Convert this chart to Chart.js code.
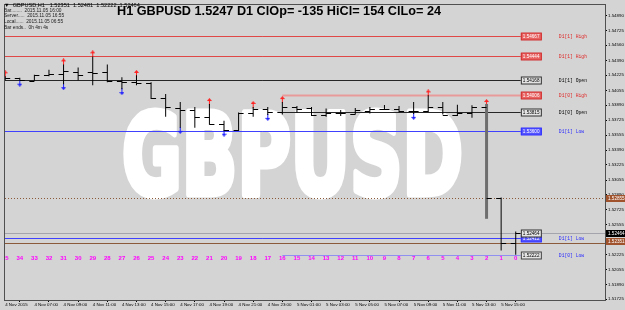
<!DOCTYPE html>
<html>
<head>
<meta charset="utf-8">
<script src="https://cdn.jsdelivr.net/npm/chart.js@4.4.0/dist/chart.umd.min.js"></script>
<style>
html, body { margin: 0; padding: 0; background: #d4d4d4; overflow: hidden; }
</style>
</head>
<body>
<canvas id="chart" width="625" height="310"></canvas>
<script>
// H1 bars, oldest first: bar 35 (4 Nov 05:00) ... bar 0 (5 Nov 16:00)
var barOpen  = [1.54202,1.54191,1.54165,1.54227,1.54235,1.54265,1.54257,1.54257,1.54158,1.54147,1.54136,1.53970,
                1.53859,1.53837,1.53760,1.53686,1.53613,1.53808,1.53852,1.53815,1.53871,1.53859,1.53786,1.53808,
                1.53797,1.53823,1.53852,1.53852,1.53823,1.53823,1.53871,1.53786,1.53808,1.53871,1.52855,1.52351];
var barHigh  = [1.54213,1.54196,1.54229,1.54287,1.54345,1.54312,1.54434,1.54345,1.54202,1.54224,1.54147,1.54014,
                1.53926,1.53871,1.53904,1.53716,1.53808,1.53871,1.53871,1.53926,1.53882,1.53871,1.53852,1.53837,
                1.53859,1.53871,1.53893,1.53882,1.53926,1.54000,1.53926,1.53896,1.53889,1.53893,1.52860,1.52481];
var barLow   = [1.54169,1.54163,1.54163,1.54213,1.54125,1.54169,1.54113,1.54147,1.54069,1.54113,1.53959,1.53760,
                1.53639,1.53639,1.53672,1.53600,1.53602,1.53760,1.53782,1.53786,1.53808,1.53771,1.53760,1.53771,
                1.53786,1.53797,1.53837,1.53808,1.53793,1.53815,1.53786,1.53771,1.53749,1.52634,1.52269,1.52222];
var barClose = [1.54191,1.54169,1.54227,1.54235,1.54268,1.54224,1.54249,1.54158,1.54147,1.54136,1.53970,1.53871,
                1.53837,1.53760,1.53686,1.53613,1.53808,1.53852,1.53815,1.53871,1.53852,1.53786,1.53808,1.53808,
                1.53837,1.53852,1.53852,1.53823,1.53826,1.53871,1.53786,1.53808,1.53871,1.52855,1.52351,1.52464];

// fractal arrows (null = none)
var upArrow   = [1.54240,null,null,null,1.54373,null,1.54463,null,null,1.54245,null,null,
                 null,null,1.53931,null,null,1.53898,null,1.53953,null,null,null,null,
                 null,null,null,null,null,1.54027,null,null,null,1.53920,null,null];
var downArrow = [null,1.54136,null,null,1.54097,null,null,null,1.54042,null,null,null,
                 1.53610,null,null,1.53578,null,null,1.53755,null,null,null,null,null,
                 null,null,null,null,1.53766,null,null,null,null,null,null,null];

// time axis, one label every second bar starting with the first
var timeLabels = ["4 Nov 2015","4 Nov 07:00","4 Nov 09:00","4 Nov 11:00","4 Nov 13:00","4 Nov 15:00",
                  "4 Nov 17:00","4 Nov 19:00","4 Nov 21:00","4 Nov 23:00","5 Nov 01:00","5 Nov 03:00",
                  "5 Nov 05:00","5 Nov 07:00","5 Nov 09:00","5 Nov 11:00","5 Nov 13:00","5 Nov 15:00"];
var priceTicks = [1.54890,1.54725,1.54560,1.54390,1.54225,1.54055,1.53890,1.53725,1.53555,1.53390,
                  1.53225,1.53055,1.52890,1.52725,1.52555,1.52390,1.52225,1.52055,1.51890,1.51725];

// daily levels
var levelNames  = ["D1[1] High","D1[1] High","D1[1] Open","D1[0] High","D1[0] Open","D1[1] Low","D1[1] Low","D1[0] Low"];
var levelPrices = [1.54667,1.54444,1.54168,1.54006,1.53815,1.53600,1.52412,1.52222];
var TODAY_START = 19; // index of 5 Nov 00:00

// price marks on the right axis
var stopPrice = 1.52855;
var bidPrice  = 1.52464;
var openPrice = 1.52351;

var SPIKE = 33;        // the big drop bar, drawn gray and thick
var LEVEL_END = 35.35; // levels stop just after the last bar

var titleText = "H1 GBPUSD 1.5247 D1 ClOp= -135 HiCl= 154 ClLo= 24";
var infoLines = ["\u25BC  GBPUSD,H1   1.52351  1.52481  1.52222  1.52464",
                 "Bar........  2015.11.05 16:00",
                 "Server.....  2015.11.05 16:55",
                 "Local......  2015.11.05 06:55",
                 "Bar ends..  0h 4m 4s"];

function clipArea(c, a) {
	c.beginPath();
	c.rect(a.left, a.top, a.right - a.left, a.bottom - a.top);
	c.clip();
}

function levelStyle(name) {
	var today = name.indexOf("[0]") >= 0;
	if (name.indexOf("High") >= 0) return { line: today ? "#e89a9a" : "#e04848", width: today ? 2 : 1, box: "#e86262", boxText: "#ffffff", border: "#d03030", text: "#e02828" };
	if (name.indexOf("Open") >= 0) return { line: "#262626", width: 1, box: "#e4e4e4", boxText: "#000000", border: "#303030", text: "#000000" };
	return { line: today ? "#9090f0" : "#4040ff", width: 1, box: today ? "#e4e4e4" : "#5454ff", boxText: today ? "#000000" : "#ffffff", border: today ? "#404040" : "#3030ff", text: "#2a2aff" };
}

function priceBox(c, x, y, w, txt, fill, border, color) {
	c.fillStyle = fill;
	c.fillRect(x, y - 3.5, w, 7);
	if (border) {
		c.strokeStyle = border;
		c.lineWidth = 1;
		c.strokeRect(x + 0.5, y - 3.5, w - 1, 7);
	}
	c.fillStyle = color;
	c.font = '4.6px "Liberation Sans"';
	c.textAlign = "left";
	c.textBaseline = "middle";
	c.fillText(txt, x + 2, y + 0.3);
}

function arrowImage(color, up) {
	var cv = document.createElement("canvas");
	cv.width = 5; cv.height = 7;
	var g = cv.getContext("2d");
	g.fillStyle = color;
	g.beginPath();
	if (up) { g.moveTo(2.5, 0); g.lineTo(5, 3); g.lineTo(0, 3); g.fillRect(2, 3, 1, 4); }
	else { g.moveTo(2.5, 7); g.lineTo(5, 4); g.lineTo(0, 4); g.fillRect(2, 0, 1, 4); }
	g.closePath();
	g.fill();
	return cv;
}

// background + watermark + level lines under the bars
var underlay = {
	id: "underlay",
	beforeDraw: function(chart) {
		var c = chart.ctx;
		c.save();
		c.fillStyle = "#d4d4d4";
		c.fillRect(0, 0, chart.width, chart.height);
		c.restore();
	},
	beforeDatasetsDraw: function(chart) {
		var c = chart.ctx, a = chart.chartArea, xs = chart.scales.x, ys = chart.scales.y;
		c.save();
		clipArea(c, a);

		// big symbol watermark
		c.save();
		c.font = 'bold 112px "DejaVu Sans"';
		c.textBaseline = "alphabetic";
		c.textAlign = "left";
		var w = c.measureText("GBPUSD").width;
		c.translate(122, 194);
		c.scale(341 / w, 1);
		c.fillStyle = "#ffffff";
		c.strokeStyle = "#ffffff";
		c.lineWidth = 7;
		c.lineJoin = "round";
		c.strokeText("GBPUSD", 0, 0);
		c.fillText("GBPUSD", 0, 0);
		c.restore();

		var xEnd = xs.getPixelForValue(LEVEL_END);
		levelPrices.forEach(function(p, k) {
			var st = levelStyle(levelNames[k]);
			var y = Math.round(ys.getPixelForValue(p)) + 0.5;
			var x0 = levelNames[k].indexOf("[0]") >= 0 ? xs.getPixelForValue(TODAY_START) : a.left;
			c.strokeStyle = st.line;
			c.lineWidth = st.width;
			c.beginPath(); c.moveTo(x0, y); c.lineTo(xEnd, y); c.stroke();
		});

		// full width lines: stop (dotted), bid, bar open
		var y1 = Math.round(ys.getPixelForValue(stopPrice)) + 0.5;
		c.strokeStyle = "#8a5a3a"; c.lineWidth = 1; c.setLineDash([1, 2]);
		c.beginPath(); c.moveTo(a.left, y1); c.lineTo(a.right, y1); c.stroke();
		c.setLineDash([]);
		var y2 = Math.round(ys.getPixelForValue(bidPrice)) + 0.5;
		c.strokeStyle = "#a4a4ac";
		c.beginPath(); c.moveTo(a.left, y2); c.lineTo(a.right, y2); c.stroke();
		var y3 = Math.round(ys.getPixelForValue(openPrice)) + 0.5;
		c.strokeStyle = "#8a5a3a";
		c.beginPath(); c.moveTo(a.left, y3); c.lineTo(a.right, y3); c.stroke();
		c.restore();
	}
};

// open / close ticks, level boxes, bar numbers
var overlay = {
	id: "overlay",
	afterDatasetsDraw: function(chart) {
		var c = chart.ctx, a = chart.chartArea, xs = chart.scales.x, ys = chart.scales.y;
		c.save();
		clipArea(c, a);
		c.lineWidth = 1;
		c.strokeStyle = "#000000";
		for (var i = 0; i < barOpen.length; i++) {
			var x = xs.getPixelForValue(i);
			var yo = Math.round(ys.getPixelForValue(barOpen[i])) + 0.5;
			var yc = Math.round(ys.getPixelForValue(barClose[i])) + 0.5;
			c.beginPath();
			c.moveTo(x - 5, yo); c.lineTo(x, yo);
			c.moveTo(x, yc); c.lineTo(x + 5, yc);
			c.stroke();
		}

		var xEnd = xs.getPixelForValue(LEVEL_END);
		levelPrices.forEach(function(p, k) {
			var st = levelStyle(levelNames[k]);
			var y = Math.round(ys.getPixelForValue(p)) + 0.5;
			priceBox(c, xEnd, y, 21, p.toFixed(5), st.box, st.border, st.boxText);
			c.fillStyle = st.text;
			c.font = '4.7px "Liberation Mono"';
			c.textAlign = "left";
			c.textBaseline = "middle";
			c.fillText(levelNames[k], xEnd + 38, y + 0.5);
		});
		var yb = Math.round(ys.getPixelForValue(bidPrice)) + 0.5;
		priceBox(c, xEnd, yb, 21, bidPrice.toFixed(5), "#e4e4e4", "#303030", "#000000");

		// bar shift numbers
		c.fillStyle = "#ff00ff";
		c.font = 'bold 6px "Liberation Sans"';
		c.textAlign = "center";
		c.textBaseline = "middle";
		for (var j = 0; j < barOpen.length; j++) {
			c.fillText(String(barOpen.length - 1 - j), xs.getPixelForValue(j), 258.5);
		}
		c.restore();
	},
	afterDraw: function(chart) {
		var c = chart.ctx, a = chart.chartArea, ys = chart.scales.y;
		c.save();
		c.strokeStyle = "#505050";
		c.lineWidth = 1;
		c.strokeRect(a.left - 0.5, a.top - 0.5, a.right - a.left + 1, a.bottom - a.top + 1);

		// axis price marks
		priceBox(c, a.right + 1, Math.round(ys.getPixelForValue(stopPrice)) + 0.5, 24, stopPrice.toFixed(5), "#a0522d", null, "#ffffff");
		priceBox(c, a.right + 1, Math.round(ys.getPixelForValue(bidPrice)) + 0.5, 24, bidPrice.toFixed(5), "#000000", null, "#ffffff");
		priceBox(c, a.right + 1, Math.round(ys.getPixelForValue(openPrice)) - 1.5, 24, openPrice.toFixed(5), "#a0522d", null, "#ffffff");

		c.fillStyle = "#000000";
		c.font = 'bold 12.7px "Liberation Sans"';
		c.textAlign = "left";
		c.textBaseline = "alphabetic";
		c.fillText(titleText, 117, 14.5);

		c.textBaseline = "middle";
		var ly = [5, 10.7, 16, 21.7, 27.3];
		infoLines.forEach(function(t, k) {
			c.font = k === 0 ? '5.6px "Liberation Sans"' : '4.8px "Liberation Sans"';
			c.fillStyle = k === 0 ? "#000000" : "#202020";
			c.fillText(t, 4, ly[k]);
		});
		c.restore();
	}
};

var ctx = document.getElementById("chart");
var bars_chart = new Chart(ctx, {
	type: "scatter",
	data: {
		datasets: [
			{
				type: "bar",
				data: barLow.map(function(l, i) { return { x: i, y: [l, barHigh[i]] }; }),
				backgroundColor: function(c) { return c.dataIndex === SPIKE ? "#6e6e6e" : "#000000"; },
				inflateAmount: function(c) { return c.dataIndex === SPIKE ? 1 : 0; },
				barThickness: 1,
				borderWidth: 0,
				grouped: false
			},
			{
				data: upArrow.map(function(v, i) { return { x: i, y: v }; }).filter(function(d) { return d.y !== null; }),
				pointStyle: arrowImage("#ff2020", true),
				pointRadius: 3
			},
			{
				data: downArrow.map(function(v, i) { return { x: i, y: v }; }).filter(function(d) { return d.y !== null; }),
				pointStyle: arrowImage("#2020ff", false),
				pointRadius: 3
			}
		]
	},
	options: {
		responsive: false,
		animation: false,
		devicePixelRatio: 1,
		events: [],
		layout: { padding: { left: 2, top: 2, right: 0, bottom: 0 } },
		plugins: { legend: { display: false }, tooltip: { enabled: false } },
		scales: {
			x: {
				type: "linear", min: -0.014, max: 41.12, offset: false, bounds: "data",
				afterBuildTicks: function(s) { s.ticks = timeLabels.map(function(t, k) { return { value: k * 2 }; }); },
				afterFit: function(s) { s.height = 10; s.paddingLeft = 0; s.paddingRight = 0; },
				grid: { drawOnChartArea: false, drawTicks: true, tickLength: 2, color: "#000000" },
				border: { display: false },
				ticks: {
					autoSkip: false, maxRotation: 0, minRotation: 0, align: "start", padding: 0,
					color: "#000000", font: { family: "Liberation Sans", size: 4.4 },
					callback: function(v, i) { return timeLabels[i]; }
				}
			},
			y: {
				type: "linear", position: "right", min: 1.51717, max: 1.55008,
				afterBuildTicks: function(s) { s.ticks = priceTicks.map(function(v) { return { value: v }; }); },
				afterFit: function(s) { s.width = 20; s.paddingTop = 0; s.paddingBottom = 0; },
				grid: { drawOnChartArea: false, drawTicks: true, tickLength: 2, color: "#000000" },
				border: { display: false },
				ticks: {
					padding: 1, color: "#000000", font: { family: "Liberation Sans", size: 4.4 },
					callback: function(v) { return v.toFixed(5); }
				}
			}
		}
	},
	plugins: [underlay, overlay]
});
</script>
</body>
</html>
